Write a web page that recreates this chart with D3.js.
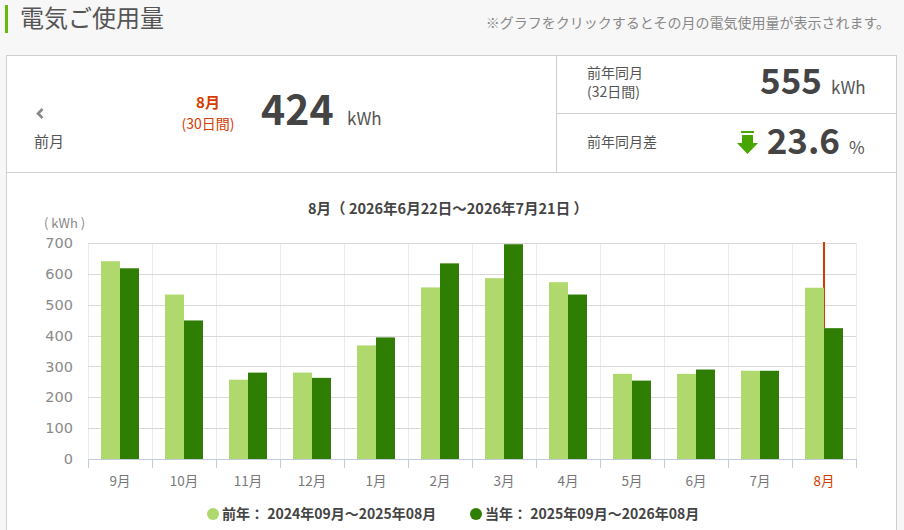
<!DOCTYPE html>
<html><head><meta charset="utf-8">
<script src="https://cdn.jsdelivr.net/npm/d3@7"></script>
<style>
body{margin:0;background:#f7f7f7;}
svg{display:block;font-family:"Noto Sans CJK JP","Noto Sans",sans-serif;}
</style></head>
<body><svg id="c" width="904" height="530"></svg>
<script>
const months = ["9月","10月","11月","12月","1月","2月","3月","4月","5月","6月","7月","8月"];
const prevYear = [641,533,257,280,368,556,586,573,276,276,286,555];
const currYear = [618,449,280,263,394,634,696,533,254,290,286,424];
const yTicks = [0,100,200,300,400,500,600,700];
const seriesKeys = ["prev","curr"];
const legendLabels = ["前年： 2024年09月～2025年08月","当年： 2025年09月～2026年08月"];
const selectedMonth = "8月";

const colors = {prev:"#afd86d", curr:"#307d03"};
const svg = d3.select("#c");

// header
svg.append("rect").attr("x",5).attr("y",5).attr("width",3).attr("height",28).attr("fill","#6ab90a");
svg.append("text").attr("x",20).attr("y",27).attr("font-size",24).attr("fill","#555").text("電気ご使用量");
svg.append("text").attr("x",890).attr("y",28).attr("text-anchor","end").attr("font-size",14).attr("fill","#888").text("※グラフをクリックするとその月の電気使用量が表示されます。");

// panel
svg.append("rect").attr("x",6.5).attr("y",55.5).attr("width",890).attr("height",490).attr("fill","#fff").attr("stroke","#cfcfcf");
svg.append("line").attr("x1",6).attr("x2",897).attr("y1",172.5).attr("y2",172.5).attr("stroke","#cfcfcf");
svg.append("line").attr("x1",556.5).attr("x2",556.5).attr("y1",55).attr("y2",172).attr("stroke","#cfcfcf");
svg.append("line").attr("x1",556).attr("x2",897).attr("y1",113.5).attr("y2",113.5).attr("stroke","#cfcfcf");

// left summary
svg.append("path").attr("d","M42.5,109 L38,113.5 L42.5,118").attr("fill","none").attr("stroke","#888").attr("stroke-width",2.6);
svg.append("text").attr("x",34).attr("y",147).attr("font-size",15).attr("fill","#555").text("前月");
svg.append("text").attr("x",208).attr("y",108).attr("text-anchor","middle").attr("font-size",15).attr("font-weight","bold").attr("fill","#d63c00").text("8月");
svg.append("text").attr("x",208).attr("y",129).attr("text-anchor","middle").attr("font-size",14).attr("fill","#d63c00").text("(30日間)");
svg.append("text").attr("x",261).attr("y",125).attr("font-size",41).attr("font-weight","bold").attr("fill","#444").text("424");
svg.append("text").attr("x",347).attr("y",125).attr("font-size",17).attr("fill","#555").text("kWh");

// right summary
svg.append("text").attr("x",587).attr("y",78).attr("font-size",14).attr("fill","#555").text("前年同月");
svg.append("text").attr("x",587).attr("y",97).attr("font-size",14).attr("fill","#555").text("(32日間)");
svg.append("text").attr("x",822).attr("y",94).attr("text-anchor","end").attr("font-size",35).attr("font-weight","bold").attr("fill","#444").text("555");
svg.append("text").attr("x",831).attr("y",94).attr("font-size",17).attr("fill","#555").text("kWh");
svg.append("text").attr("x",587).attr("y",147).attr("font-size",14).attr("fill","#555").text("前年同月差");
svg.append("rect").attr("x",741).attr("y",131).attr("width",13).attr("height",2).attr("fill","#47a700");
svg.append("path").attr("d","M742,135 L753,135 L753,143 L758,143 L747.5,154 L737,143 L742,143 Z").attr("fill","#47a700");
svg.append("text").attr("x",840).attr("y",154).attr("text-anchor","end").attr("font-size",35).attr("font-weight","bold").attr("fill","#444").text("23.6");
svg.append("text").attr("x",849).attr("y",154).attr("font-size",17).attr("fill","#555").text("%");

// chart
const x0 = d3.scaleBand().domain(months).range([88,856]);
const x1 = d3.scaleBand().domain(seriesKeys).range([13,51]);
const y = d3.scaleLinear().domain([0,700]).range([459,243]);

svg.append("text").attr("x",448).attr("y",214).attr("text-anchor","middle").attr("font-size",14.5).attr("font-weight","bold").attr("fill","#444").text("8月（ 2026年6月22日～2026年7月21日 ）");
svg.append("text").attr("x",44).attr("y",228).attr("font-size",13).attr("fill","#888").text("( kWh )");

// vertical grid
const bounds = months.map(m=>x0(m)).concat([x0.range()[1]]);
svg.append("g").selectAll("line").data(bounds).join("line")
  .attr("x1",d=>d+0.5).attr("x2",d=>d+0.5).attr("y1",y(700)).attr("y2",y(0))
  .attr("stroke","#ececec");
// horizontal grid
svg.append("g").selectAll("line").data(yTicks.slice(1)).join("line")
  .attr("x1",88).attr("x2",856).attr("y1",d=>Math.round(y(d))+0.5).attr("y2",d=>Math.round(y(d))+0.5)
  .attr("stroke","#d9d9d9");

// y axis labels
const yAxis = d3.axisLeft(y).tickValues(yTicks).tickSize(0).tickPadding(15);
const gy = svg.append("g").attr("transform","translate(88,0)").call(yAxis);
gy.select(".domain").remove();
gy.selectAll("text").attr("fill","#8a8a8a").attr("font-family","'DejaVu Sans','Noto Sans',sans-serif").style("font-size","14.5px");

// red marker line
svg.append("line").attr("x1",x0(selectedMonth)+32).attr("x2",x0(selectedMonth)+32)
  .attr("y1",y(700)-1).attr("y2",y(currYear[months.indexOf(selectedMonth)]))
  .attr("stroke","#d63c00").attr("stroke-width",2);

// bars
const rows = months.map((m,i)=>({m, vals:[{k:"prev",v:prevYear[i]},{k:"curr",v:currYear[i]}]}));
svg.append("g").selectAll("g").data(rows).join("g")
  .attr("transform",d=>`translate(${x0(d.m)},0)`)
  .selectAll("rect").data(d=>d.vals).join("rect")
  .attr("x",d=>x1(d.k)).attr("width",x1.bandwidth())
  .attr("y",d=>y(d.v)).attr("height",d=>y(0)-y(d.v))
  .attr("fill",d=>colors[d.k]);

// x axis
svg.append("line").attr("x1",88).attr("x2",856).attr("y1",459.5).attr("y2",459.5).attr("stroke","#c3cbd9");
svg.append("g").selectAll("line").data(bounds).join("line")
  .attr("x1",d=>d+0.5).attr("x2",d=>d+0.5).attr("y1",459).attr("y2",468).attr("stroke","#c3cbd9");
const xAxis = d3.axisBottom(x0).tickSize(0).tickPadding(17);
const gx = svg.append("g").attr("transform","translate(0,459)").call(xAxis);
gx.select(".domain").remove();
gx.selectAll("text").style("font-size","13.5px").attr("fill",d=>d===selectedMonth?"#d63c00":"#777")
  .attr("font-family","'Noto Sans CJK JP',sans-serif");

// legend
const lg = svg.append("g").selectAll("g").data(seriesKeys).join("g")
  .attr("transform",(d,i)=>`translate(${i===0?213:476},514)`);
lg.append("circle").attr("r",6).attr("fill",d=>colors[d]);
lg.append("text").attr("x",9).attr("y",5).attr("font-size",14).attr("font-weight","bold").attr("fill","#444")
  .text((d,i)=>legendLabels[i]);
</script></body></html>
